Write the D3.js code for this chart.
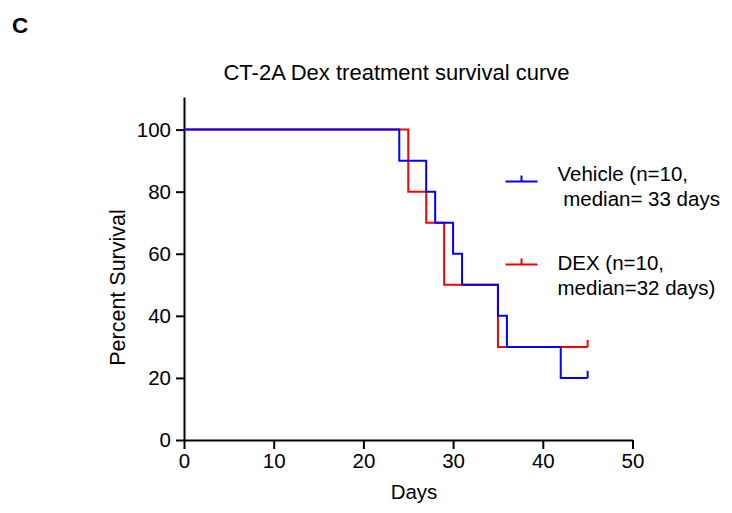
<!DOCTYPE html>
<html>
<head>
<meta charset="utf-8">
<script src="https://cdn.jsdelivr.net/npm/d3@7"></script>
<style>
  html, body { margin: 0; padding: 0; background: #fff; }
  svg { display: block; font-family: "Liberation Sans", Arial, sans-serif; }
</style>
</head>
<body>
<svg id="chart" width="732" height="513"></svg>
<script>
// Kaplan-Meier step data: day of each event and percent surviving after it
const vehicleDays = [0, 24, 27, 28, 30, 31, 35, 36, 42, 45];
const vehicleSurvival = [100, 90, 80, 70, 60, 50, 40, 30, 20, 20];
const dexDays = [0, 25, 27, 29, 35, 45];
const dexSurvival = [100, 80, 70, 50, 30, 30];
// last day of follow-up, animals still alive are censored there
const censorDay = 45;

const xTicks = [0, 10, 20, 30, 40, 50];
const yTicks = [0, 20, 40, 60, 80, 100];

const seriesNames = ["Vehicle (n=10,", " median= 33 days"];
const dexNames = ["DEX (n=10,", "median=32 days)"];

const svg = d3.select("#chart");

const x = d3.scaleLinear().domain([0, 50]).range([184, 632.5]);
const y = d3.scaleLinear().domain([0, 110.5]).range([440, 97]);

const fontSize = 20.5;

// Panel letter
svg.append("text")
  .attr("x", 12).attr("y", 33)
  .attr("font-size", 22.5).attr("font-weight", "bold")
  .text("C");

// Title
svg.append("text")
  .attr("x", 396.5).attr("y", 80)
  .attr("text-anchor", "middle")
  .attr("font-size", 22)
  .text("CT-2A Dex treatment survival curve");

// Axes
const xAxis = d3.axisBottom(x).tickValues(xTicks).tickSize(9).tickSizeOuter(0).tickPadding(4);
const yAxis = d3.axisLeft(y).tickValues(yTicks).tickSize(8).tickSizeOuter(0).tickPadding(5);

const gx = svg.append("g").attr("transform", `translate(0,${y(0)})`).call(xAxis);
const gy = svg.append("g").attr("transform", `translate(${x(0)},0)`).call(yAxis);

[gx, gy].forEach(g => {
  g.selectAll("path.domain").attr("stroke", "#000").attr("stroke-width", 2);
  g.selectAll(".tick line").attr("stroke", "#000").attr("stroke-width", 2);
  g.selectAll(".tick text")
    .attr("fill", "#000")
    .attr("font-size", fontSize)
    .attr("font-family", "Liberation Sans, Arial, sans-serif");
});

// Axis titles
svg.append("text")
  .attr("x", 414).attr("y", 499)
  .attr("text-anchor", "middle")
  .attr("font-size", fontSize)
  .text("Days");

svg.append("text")
  .attr("transform", "translate(124.5,287.5) rotate(-90)")
  .attr("text-anchor", "middle")
  .attr("font-size", 21.5)
  .text("Percent Survival");

// Survival curves
const stepLine = d3.line()
  .x(d => x(d[0]))
  .y(d => y(d[1]))
  .curve(d3.curveStepAfter);

const curves = [
  { days: dexDays, surv: dexSurvival, color: "#ff0000" },
  { days: vehicleDays, surv: vehicleSurvival, color: "#0000ff" }
];

curves.forEach(c => {
  const pts = c.days.map((d, i) => [d, c.surv[i]]);
  svg.append("path")
    .attr("d", stepLine(pts))
    .attr("fill", "none")
    .attr("stroke", c.color)
    .attr("stroke-width", 2);
  // censor mark at end of follow-up
  const last = c.surv[c.surv.length - 1];
  svg.append("line")
    .attr("x1", x(censorDay)).attr("x2", x(censorDay))
    .attr("y1", y(last)).attr("y2", y(last) - 7)
    .attr("stroke", c.color)
    .attr("stroke-width", 2);
});

// Legend
const legend = [
  { names: seriesNames, color: "#0000ff", ly: 181.5, tx: 557.5, ty: 181 },
  { names: dexNames, color: "#ff0000", ly: 264.5, tx: 557.5, ty: 270 }
];

legend.forEach(l => {
  svg.append("line")
    .attr("x1", 505.5).attr("x2", 537.5)
    .attr("y1", l.ly).attr("y2", l.ly)
    .attr("stroke", l.color).attr("stroke-width", 2);
  svg.append("line")
    .attr("x1", 521.5).attr("x2", 521.5)
    .attr("y1", l.ly).attr("y2", l.ly - 6)
    .attr("stroke", l.color).attr("stroke-width", 2);
  const t = svg.append("text")
    .attr("x", l.tx).attr("y", l.ty)
    .attr("font-size", fontSize)
    .attr("xml:space", "preserve")
    .style("white-space", "pre");
  l.names.forEach((n, i) => {
    t.append("tspan")
      .attr("x", l.tx)
      .attr("dy", i === 0 ? 0 : 24.5)
      .text(n);
  });
});
</script>
</body>
</html>
